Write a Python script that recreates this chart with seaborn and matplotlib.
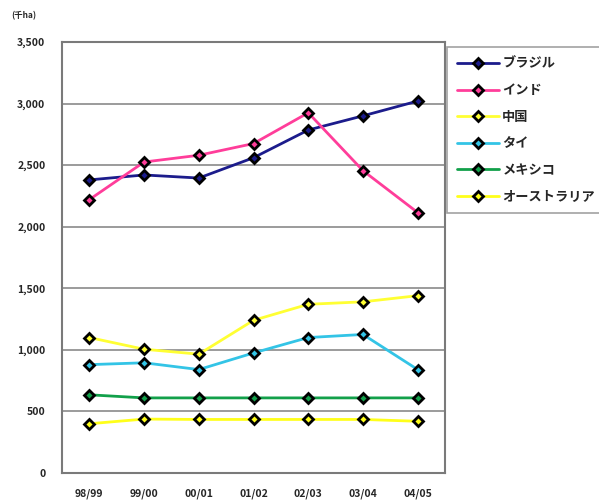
import numpy as np
import pandas as pd
import matplotlib
matplotlib.use("Agg")
import matplotlib.pyplot as plt
import seaborn as sns

# 作付面積 (千ha)
years = ["98/99", "99/00", "00/01", "01/02", "02/03", "03/04", "04/05"]
countries = ["ブラジル", "インド", "中国", "タイ", "メキシコ", "オーストラリア"]
brazil = [2380, 2420, 2395, 2560, 2785, 2900, 3020]
india = [2220, 2525, 2580, 2675, 2925, 2455, 2115]
china = [1100, 1005, 965, 1240, 1370, 1390, 1440]
thai = [880, 895, 840, 975, 1100, 1125, 840]
mexico = [635, 610, 610, 610, 610, 610, 610]
australia = [400, 438, 435, 435, 435, 435, 420]
colors = ["#1c1c8c", "#ff3d9a", "#ffff33", "#33c4e6", "#12a04a", "#ffff1a"]
yticks = [0, 500, 1000, 1500, 2000, 2500, 3000, 3500]

series = [brazil, india, china, thai, mexico, australia]
df = pd.DataFrame({
    "year": np.tile(np.arange(len(years)), len(countries)),
    "country": np.repeat(countries, len(years)),
    "value": np.concatenate(series),
})

sns.set_style("white")
plt.rcParams["font.family"] = ["Noto Sans CJK JP", "DejaVu Sans"]

fig = plt.figure(figsize=(5.99, 5.03), dpi=100)
ax = fig.add_axes([0.1035, 0.0596, 0.6395, 0.857])

for name, col in zip(countries, colors):
    sub = df[df["country"] == name]
    sns.lineplot(data=sub, x="year", y="value", ax=ax, color=col, lw=2,
                 marker="D", markersize=5.5, markerfacecolor=col,
                 markeredgecolor="black", markeredgewidth=2, label=name)

ax.set_xlim(-0.5, 6.5)
ax.set_ylim(0, 3500)
ax.set_xticks(range(len(years)))
ax.set_xticklabels(years, fontsize=7.5, fontweight="bold")
ax.set_xticks(np.arange(0.5, 6), minor=True)
ax.tick_params(axis="x", which="major", length=0, pad=11)
ax.tick_params(axis="x", which="minor", direction="in", length=4, color="#707070")
ax.set_yticks(yticks)
ax.set_yticklabels([f"{v:,}" for v in yticks], fontsize=7.5, fontweight="bold")
ax.tick_params(axis="y", length=0, pad=12)
ax.set_xlabel("")
ax.set_ylabel("")
ax.grid(axis="y", color="#8a8a8a", lw=1.2)
ax.set_axisbelow(True)
for s in ax.spines.values():
    s.set_color("#7a7a7a")
    s.set_linewidth(1.5)

fig.text(0.018, 0.963, "(千ha)", fontsize=6, fontweight="bold")

ax.legend_.remove()
handles, labels = ax.get_legend_handles_labels()
leg = fig.legend(handles, labels, loc="upper left", bbox_to_anchor=(0.746, 0.907),
                 labelspacing=0.95, handlelength=3.2, handletextpad=0.25,
                 borderaxespad=0, borderpad=0.75, fancybox=False,
                 prop={"family": ["Noto Sans CJK JP", "DejaVu Sans"], "weight": "bold", "size": 9.5})
leg.get_frame().set_edgecolor("#8a8a8a")
leg.get_frame().set_linewidth(1.2)

fig.savefig("out.png", dpi=100)
